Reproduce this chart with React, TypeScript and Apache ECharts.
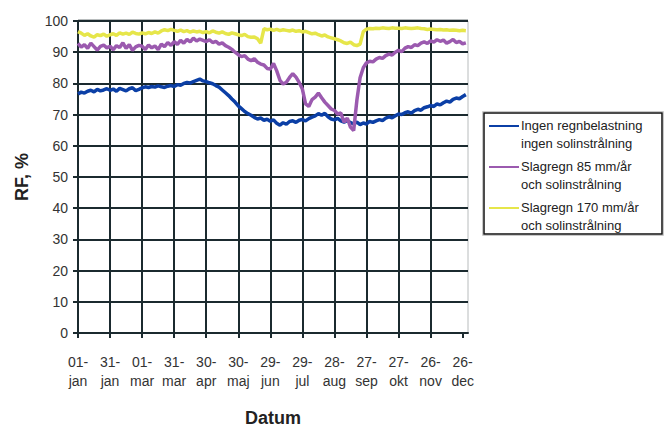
import React, { useEffect, useRef } from "react";
import * as echarts from "echarts";

// sampling step in days between consecutive readings (day 0 = 01-jan)
const dayStep = 3;

const xTickDays = [0, 30, 60, 90, 120, 150, 180, 210, 240, 270, 300, 330, 360];
const xTickLabels = [
  "01-\njan", "31-\njan", "01-\nmar", "31-\nmar", "30-\napr", "30-\nmaj", "29-\njun",
  "29-\njul", "28-\naug", "27-\nsep", "27-\nokt", "26-\nnov", "26-\ndec",
];

const seriesNames = [
  "Ingen regnbelastning\ningen solinstrålning",
  "Slagregn 85 mm/år\noch solinstrålning",
  "Slagregn 170 mm/år\noch solinstrålning",
];

const seriesColors = ["#0b3fa6", "#9b5aaf", "#e6e64a"];

const blueValues = [
  76.6, 77.2, 76.9, 77.5, 77.8, 77.3, 78.1, 77.6, 77.9, 78.3,
  77.8, 78.2, 77.5, 78.4, 78.0, 77.6, 78.3, 78.6, 77.7, 78.1,
  78.6, 78.9, 78.7, 79.0, 78.8, 79.2, 78.9, 78.7, 79.1, 79.3,
  79.0, 79.6, 79.4, 80.0, 80.3, 80.1, 80.6, 81.0, 81.4, 80.8,
  80.6, 80.2, 79.9, 79.3, 78.8, 77.9, 77.0, 76.1, 75.0, 74.0,
  72.8, 71.9, 71.0, 70.3, 69.8, 69.1, 68.6, 68.9, 68.2, 68.5,
  67.9, 68.3, 67.2, 66.6, 67.4, 66.9, 67.8, 68.0, 67.5, 68.2,
  68.4, 68.0, 68.7, 69.2, 69.6, 70.3, 69.8, 70.4, 69.3, 68.6,
  68.3, 68.8, 68.0, 67.6, 68.1, 67.4, 67.0, 67.6, 66.8, 67.3,
  67.0, 67.8, 67.5, 68.0, 68.4, 68.1, 68.9, 69.3, 69.0, 69.6,
  70.2, 70.0, 70.6, 70.9, 70.5, 71.3, 71.7, 71.4, 72.2, 72.5,
  72.9, 72.6, 73.4, 73.1, 73.8, 74.3, 74.0, 74.9, 75.3, 75.1,
  75.8, 76.4,
];

const purpleValues = [
  92.8, 91.6, 92.4, 91.2, 92.9, 91.8, 90.7, 91.9, 92.3, 91.4,
  91.9, 90.8, 92.1, 91.5, 93.0, 91.2, 92.4, 90.6, 91.7, 92.2,
  91.9, 90.9, 92.3, 91.4, 92.0, 90.8, 92.6, 91.8, 93.1, 92.2,
  93.4, 92.5, 93.8, 92.9, 94.1, 93.3, 94.5, 93.6, 94.2, 93.8,
  93.4, 94.0, 93.1, 93.5, 92.6, 93.0, 92.1, 91.6, 90.9, 90.0,
  89.2, 88.6, 88.9, 87.8, 87.3, 87.9, 86.8, 86.2, 85.9, 84.8,
  84.6, 86.4, 84.0, 81.0, 79.8, 80.4, 81.9, 83.1, 82.0, 80.3,
  78.2, 73.4, 72.6, 74.8, 75.6, 76.9, 75.4, 74.0, 72.9, 71.8,
  71.3, 70.2, 70.5, 67.6, 68.9, 66.0, 64.9, 74.6, 81.8, 85.0,
  86.6, 87.1, 86.9, 87.8, 88.3, 88.0, 88.9, 89.4, 89.1, 90.0,
  90.6, 90.2, 91.3, 91.8, 91.5, 92.4, 92.1, 92.9, 93.3, 92.8,
  93.6, 93.2, 94.0, 93.5, 93.9, 92.9, 93.4, 94.1, 93.1, 93.5,
  92.7, 93.0,
];

const yellowValues = [
  96.6, 96.1, 95.4, 95.9, 95.2, 94.8, 95.6, 95.3, 95.8, 95.1,
  95.6, 95.9, 95.4, 96.2, 95.8, 96.1, 95.7, 96.4, 96.0, 95.8,
  96.2, 95.9, 96.3, 96.0, 96.5, 96.1, 96.8, 97.2, 96.9, 97.3,
  97.0, 96.7, 97.1, 96.6, 96.9, 96.4, 96.8, 96.5, 96.7, 96.3,
  96.6, 96.2, 96.8, 96.4, 96.1, 96.5, 96.0, 95.7, 96.2, 95.9,
  95.6, 95.3, 95.7, 95.0, 94.8, 94.9, 94.3, 92.9, 97.5, 97.2,
  97.4, 97.0, 97.3, 96.9, 97.2, 97.0, 96.8, 97.1, 96.7, 96.9,
  96.5, 96.7, 96.3, 95.9, 96.1, 95.6, 95.2, 95.5, 94.9, 94.6,
  94.3, 94.0, 93.6, 93.0, 92.8, 93.2, 92.4, 92.1, 92.6, 96.6,
  97.4, 97.6, 97.5, 97.7, 97.6, 97.8, 97.7, 97.6, 97.8, 97.7,
  97.7, 97.6, 97.8, 97.7, 97.6, 97.7, 97.8, 97.6, 97.5, 97.3,
  97.4, 97.3, 97.2, 97.3, 97.1, 97.2, 97.0, 97.1, 97.0, 96.9,
  97.0, 96.9,
];

const gridColor = "#1b2a2f";
const fontFamily = "'Liberation Sans', Arial, sans-serif";

function toPairs(values: number[]) {
  return values.map((v, i) => [i * dayStep, v]);
}

export default function App() {
  const ref = useRef<HTMLDivElement>(null);
  useEffect(() => {
    if (!ref.current) return;
    const chart = echarts.init(ref.current, undefined, { renderer: "svg" });
    const allValues = [blueValues, purpleValues, yellowValues];
    chart.setOption({
      animation: false,
      backgroundColor: "#ffffff",
      textStyle: { fontFamily },
      grid: {
        left: 78,
        top: 21,
        width: 390,
        height: 312,
        show: true,
        borderColor: "#b8bcbd",
        borderWidth: 1,
        containLabel: false,
        outerBoundsMode: "none",
      },
      legend: {
        orient: "vertical",
        left: 489,
        top: 116,
        padding: 0,
        itemGap: 5,
        itemWidth: 30,
        itemHeight: 18,
        icon: "path://M0,0H30V2H0Z M0,17.98H0.01V18H0Z",
        textStyle: { fontSize: 13, lineHeight: 18, color: "#222", padding: [0, 0, 0, -3] },
        data: seriesNames,
      },
      xAxis: {
        type: "value",
        min: 0,
        max: 365,
        interval: 30,
        name: "Datum",
        nameLocation: "middle",
        nameGap: 76,
        nameTextStyle: { fontSize: 18, fontWeight: "bold", color: "#222" },
        axisLine: { show: true, lineStyle: { color: gridColor, width: 2 } },
        axisTick: { show: true, length: 5, lineStyle: { color: gridColor, width: 2 }, customValues: xTickDays },
        axisLabel: {
          customValues: xTickDays,
          fontSize: 14,
          lineHeight: 19,
          margin: 19,
          color: "#333",
          formatter: (v: number) => {
            const i = xTickDays.indexOf(v);
            return i >= 0 ? xTickLabels[i] : "";
          },
        },
        splitLine: { show: true, showMaxLine: false, lineStyle: { color: gridColor, width: 2 } },
      },
      yAxis: {
        type: "value",
        min: 0,
        max: 100,
        interval: 10,
        name: "RF, %",
        nameLocation: "middle",
        nameGap: 47,
        nameRotate: 90,
        nameTextStyle: { fontSize: 18, fontWeight: "bold", color: "#222" },
        axisLine: { show: true, lineStyle: { color: gridColor, width: 2 } },
        axisTick: { show: true, length: 5, lineStyle: { color: gridColor, width: 2 } },
        axisLabel: { fontSize: 14, margin: 10, color: "#333" },
        splitLine: { show: true, lineStyle: { color: gridColor, width: 2 } },
      },
      graphic: [
        {
          type: "rect",
          shape: { x: 482.5, y: 111.5, width: 181, height: 124 },
          style: { fill: "none", stroke: "#c8c8c8", lineWidth: 1 },
          silent: true,
        },
        {
          type: "rect",
          shape: { x: 484, y: 113, width: 178, height: 121 },
          style: { fill: "none", stroke: "#111", lineWidth: 1.5 },
          silent: true,
        },
        {
          type: "line",
          shape: { x1: 78, y1: 19.5, x2: 468, y2: 19.5 },
          style: { stroke: "#b8bcbd", lineWidth: 1 },
          silent: true,
        },
      ],
      series: seriesNames.map((name, k) => ({
        name,
        type: "line",
        data: toPairs(allValues[k]),
        showSymbol: false,
        symbol: "none",
        color: seriesColors[k],
        lineStyle: { color: seriesColors[k], width: 3.5 },
        z: 3 + k,
      })),
    });
    return () => chart.dispose();
  }, []);
  return <div ref={ref} style={{ width: 664, height: 428, position: "absolute", left: 0, top: 0 }} />;
}
